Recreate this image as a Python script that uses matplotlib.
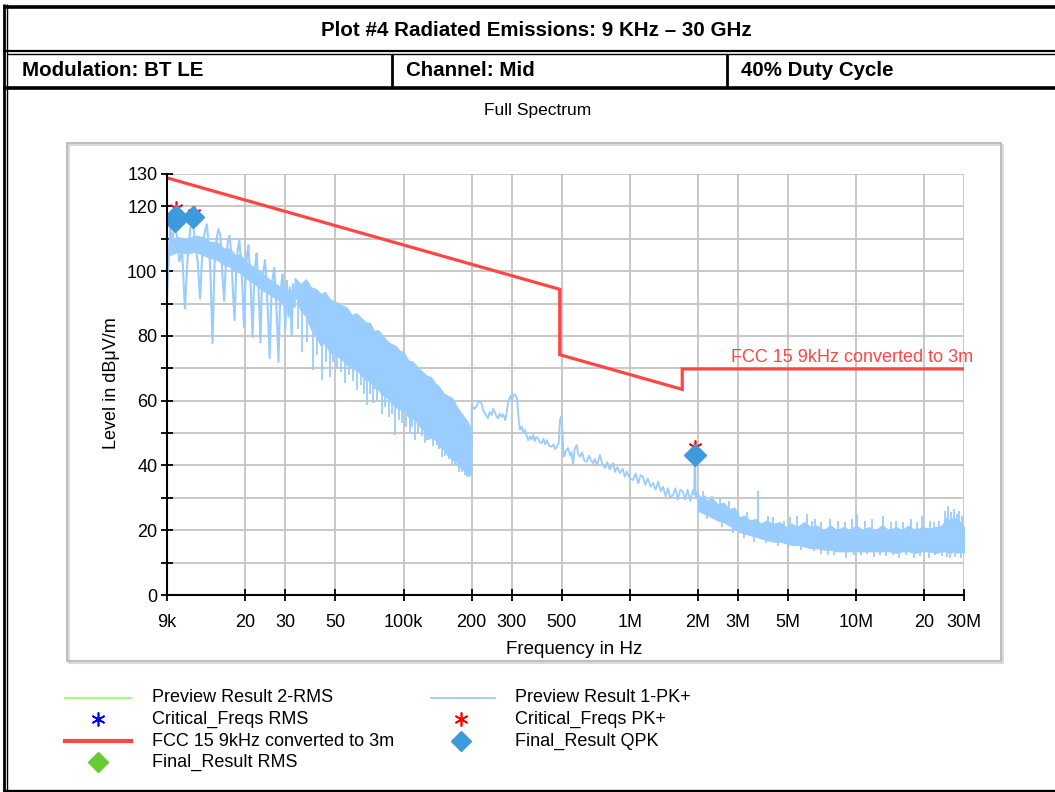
import matplotlib
matplotlib.use('Agg')
import matplotlib.pyplot as plt
from matplotlib.lines import Line2D
from matplotlib.patches import Rectangle
from matplotlib.ticker import NullLocator, FixedLocator
from matplotlib import font_manager as fm

# ---------------- data ----------------
title_text = "Plot #4 Radiated Emissions: 9 KHz \u2013 30 GHz"
row_texts = ["Modulation: BT LE", "Channel: Mid", "40% Duty Cycle"]
subtitle = "Full Spectrum"

x_ticks = [9e3, 2e4, 3e4, 5e4, 1e5, 2e5, 3e5, 5e5, 1e6, 2e6, 3e6, 5e6, 1e7, 2e7, 3e7]
x_tick_labels = ['9k', '20', '30', '50', '100k', '200', '300', '500', '1M', '2M',
                 '3M', '5M', '10M', '20', '30M']
y_ticks = [0, 20, 40, 60, 80, 100, 120, 130]
y_minor = [10, 30, 50, 70, 90, 110]

# FCC 15 limit converted to 3 m
limit_f = [9e3, 490e3, 490e3, 1.705e6, 1.705e6, 30e6]
limit_v = [128.8, 94.4, 74.2, 63.5, 69.8, 69.8]
limit_label = "FCC 15 9kHz converted to 3m"

# Preview Result 1-PK+ : low band comb (Hz, dBuV/m)
pk_low_f = [9000, 9050, 9150, 9300, 9500, 9700, 9950, 10200, 10500, 10800, 11100, 11400,
            11700, 12000, 12300, 12600, 12900, 13200, 13500, 13800, 14000, 14300, 14600,
            14900, 15200, 15500, 15800, 16100, 16400, 16700, 17000, 17300, 17600, 17900,
            18200, 18500, 18800, 19100, 19400, 19700, 20000, 20300, 20600, 20900, 21200,
            21500, 21800, 22100, 22400, 22700, 23000, 23300, 23600, 24000, 24400, 24800,
            25200, 25600, 26000, 26400, 26800, 27200, 27600, 28000, 28400, 28800, 29200,
            29600, 30000, 30500, 31000, 31500, 32000, 32500, 33000]
pk_low_v = [91, 96, 103, 113.5, 109, 114, 111, 103, 106, 88.5, 104, 113,
            115.5, 108, 103, 91.5, 106, 112, 114.5, 107, 100, 77.8, 102,
            110, 113, 111, 99, 90.9, 103, 109, 111, 106, 94, 84.9,
            100, 107, 109.5, 103, 95, 82.7, 97, 105, 108, 101, 92,
            79.6, 95, 102, 105.5, 99, 90, 78, 93, 100, 103.4, 96,
            85, 73.1, 91, 98, 101, 94, 84, 72, 89, 96, 99,
            92, 82, 97, 86, 95, 80, 96, 90]

# upper lobes of the low band comb (kHz)
band0_f = [9.3, 10, 11, 12, 13, 14, 15, 16, 17, 18, 19, 20, 22, 24, 26, 28, 30, 33]
band0_top = [110, 110.5, 110, 111, 110.5, 109, 109, 107, 107, 105, 105, 103,
             101, 99, 97, 95.5, 94.5, 94]
band0_bot = [105, 106, 105.5, 106, 105, 104, 103.5, 102, 101.5, 100, 99.5, 98, 96,
             94, 92.5, 91, 90, 89]

# dense comb region 33k-200k : jagged envelope of the band (kHz)
band1_f = [33, 35, 37, 39, 41, 43, 45, 47, 50, 53, 56, 59, 62, 65, 68, 71, 74, 77, 80, 84,
           88, 92, 96, 100, 105, 110, 115, 120, 126, 132, 138, 144, 150, 157, 164, 171, 178,
           185, 192, 199]
band1_top = [98, 96, 97.5, 95, 94.5, 93, 93.6, 91.5, 90.5, 89.5, 88.8, 86.5, 87, 85.5, 84.2,
             84, 81.5, 81.8, 80.5, 78.7, 77.5, 77, 75.5, 75, 72.5, 72, 70.4, 69.2, 67.8, 67.3,
             65.4, 64.2, 62.3, 61.5, 60.8, 58.5, 56.5, 55, 53.5, 51]
band1_bot = [93, 88, 86, 82, 80, 77, 78, 75, 74, 73, 71, 70, 69.5, 68, 66.4, 66, 64, 63.5,
             62, 61, 59.5, 58, 57.5, 57, 55, 54.5, 53, 51.5, 50, 48.5, 48, 46, 45, 43, 42,
             41, 39.5, 38.5, 37.5, 37]

# deep dips inside the dense region (kHz)
dip1_f = [34, 35.5, 37.5, 39.8, 41.5, 43.4, 45.5, 47.3, 49, 51, 53, 55.1, 57.5, 60, 62.1,
          64.5, 66.5, 68.7, 71, 73.2, 76, 80, 83, 86, 89, 91.6, 95, 98, 102, 106.7, 109,
          112.3, 116, 120, 124.3, 127, 130, 135, 140, 144, 147.8, 152, 158, 163.7, 169,
          175, 181, 186, 190, 195]
dip1_v = [82, 75, 78, 69.4, 74, 66.4, 72, 67.4, 72, 70, 69, 65.4, 68, 66, 63.3,
          65, 62, 58.6, 62, 59.3, 60, 56, 58, 55, 56, 49.4, 54, 53, 52, 50, 52,
          47.8, 50, 49, 46.9, 48, 48, 46, 46.3, 45, 42.6, 43, 42, 40, 40,
          38, 38, 37, 36.5, 36.5]
dip1_top = [95, 93, 94, 92, 91, 90, 90, 88, 88, 86, 86, 85, 84, 84, 83,
            82, 82, 81, 80, 79, 78, 76, 76, 75, 74, 72, 72, 70, 70, 68, 68,
            67, 66, 64, 63, 62, 62, 60, 58, 58, 56, 56, 54, 52, 52,
            50, 50, 48, 48, 46]

# 200k - 2.3M section (kHz, dBuV/m)
pk_mid_f = [199.5, 200, 205, 210, 215, 221, 225, 229, 236, 240, 245, 249, 253, 257, 261, 266,
            271, 276, 281, 285, 290, 297, 302, 305, 310, 317, 322, 327, 333, 338, 344, 349,
            355, 362, 368, 374, 380, 386, 393, 400, 408, 415, 422, 430, 440, 452, 460, 468,
            476, 485, 491, 496, 503, 508, 512, 522, 533, 545, 553, 561, 570, 582, 592, 603,
            615, 630, 645, 660, 675, 688, 700, 715, 738, 755, 777, 795, 815, 843, 860, 880,
            905, 930, 950, 969, 1000, 1033, 1060, 1090, 1115, 1143, 1170, 1200, 1235, 1267,
            1300, 1335, 1370, 1402, 1440, 1475, 1510, 1552, 1590, 1630, 1670, 1718, 1760,
            1800, 1850, 1901, 1925, 1935, 1945, 1955, 1980, 2045, 2100, 2150, 2200, 2264]
pk_mid_v = [37, 58.6, 57.5, 58.1, 60.0, 59.2, 57.0, 56, 54.6, 56.5, 55.6, 57.5, 56.6, 55.2, 54.6, 56.0,
            55, 55.8, 54, 56.0, 59.7, 61.5, 60.0, 61.7, 62.0, 60.8, 55.0, 51, 52.0, 50.0, 51, 49.5,
            47.8, 49.0, 48.0, 49.4, 47.5, 48.8, 48.4, 47.2, 46.9, 48.3, 46.5, 47.8, 46.0, 45.8, 46.5, 45.0,
            45.8, 47.0, 54, 55.0, 51, 45.0, 42.7, 44.5, 45.4, 43.0, 44.2, 40.1, 45.0, 46.3, 43.5, 42.7,
            44.0, 41.5, 41.1, 43.0, 41.5, 40.7, 42.0, 40.0, 43.2, 40.5, 39.2, 41.0, 38.8, 40.7, 38.0, 39.5,
            37.6, 39.0, 36.5, 38.1, 36.0, 35.5, 37.5, 34.5, 37.0, 36.5, 34.0, 36.0, 33.5, 34.6,
            32.5, 35.0, 32.0, 33.4, 30.5, 33.0, 30.0, 30.9, 33.0, 29.5, 32.5, 31.9, 29.5,
            32.5, 29.0, 32.4, 31.0, 41.0, 41.0, 30.0, 31.5, 29.9, 28.0, 30.5, 27.0, 27.8]

# 2M - 30M noise floor (MHz)
band2_f = [2.0, 2.15, 2.3, 2.45, 2.6, 2.75, 2.9, 3.05, 3.2, 3.4, 3.6, 3.8, 4.0, 4.3, 4.6, 4.9,
           5.2, 5.5, 5.9, 6.3, 6.7, 7.2, 7.7, 8.2, 8.8, 9.4, 10, 10.7, 11.4, 12.2, 13, 14, 15,
           16, 17, 18.2, 19.5, 21, 22.5, 24, 25, 26, 27, 28, 29, 30]
band2_top = [31, 29, 30, 28, 28.5, 26.5, 27, 24, 24.5, 23, 23.5, 22, 23, 22, 22.5, 21,
             22, 21, 22.5, 21, 21.5, 20, 21.5, 20, 21, 20, 21.5, 20, 21, 20, 21.5, 20, 21,
             20, 21.5, 20, 21, 20.5, 21, 21.5, 24, 23, 24, 23, 22.5, 21]
band2_bot = [26, 25, 24, 23, 22.5, 21.5, 20.5, 19.5, 19, 18.5, 18, 17.5, 17, 16.5, 16.5, 16,
             15.5, 15.5, 15, 14.5, 14.5, 14, 14, 13.5, 13.5, 13.5, 13.5, 13.5, 13.5, 13.5,
             13.5, 13.5, 13, 13.5, 13.5, 13, 13.5, 13.5, 13, 13.5, 13.5, 13, 13.5, 13, 13.5, 13]
spk_up_f = [2.1, 2.3, 2.5, 2.75, 3.0, 3.3, 3.7, 4.1, 4.3, 4.8, 5.1, 5.5, 6.05, 6.4, 6.6, 7.0,
            7.7, 8.3, 8.9, 9.6, 10.1, 11.0, 11.8, 13.1, 14.3, 15.0, 16.2, 17.5, 18.6, 19.5,
            21.2, 22.0, 23.3, 24.8, 25.5, 26.3, 27.0, 27.8, 28.5, 29.3]
spk_up_v = [32, 30.5, 30, 29, 26, 25.5, 32.2, 24.5, 24, 23, 24, 24.5, 25, 23, 23.5, 22.5,
            23.5, 23, 22.5, 23.5, 25, 23, 23.5, 24.5, 22.5, 23, 22.5, 23.5, 22.5, 24.5,
            23, 22.5, 23, 26, 27.5, 25.5, 26.5, 25, 26, 24.5]
spk_up_base = [28, 26, 25, 24, 22, 21, 20, 20, 20, 19, 19, 19, 19, 18, 18, 18,
               18, 18, 18, 18, 18, 18, 18, 18, 18, 18, 18, 18, 18, 18,
               18, 18, 18, 20, 20, 20, 20, 20, 20, 20]
spk_dn_f = [2.2, 2.55, 2.85, 3.2, 3.55, 4.0, 4.5, 5.0, 5.7, 6.5, 7.0, 7.5, 8.0, 9.0, 9.8,
            10.5, 11.2, 12.0, 12.8, 13.5, 14.6, 15.5, 16.6, 18.0, 19.2, 21.0, 22.4, 24.0,
            25.2, 26.0, 27.5, 29.0]
spk_dn_v = [23.5, 21, 19, 17.5, 16.5, 16, 15, 14.5, 14, 13.5, 12.8, 12.5, 12.2, 11.5, 12.3,
            12.3, 12.6, 11.8, 12.2, 12.0, 12.4, 11.5, 12.2, 11.3, 12.0, 11.5, 12.2, 12.0,
            11.6, 11.3, 11.8, 11.4]
spk_dn_top = [27, 25, 23, 21, 20, 20, 19, 19, 18, 17, 17, 17, 17, 16, 16,
              16, 16, 16, 16, 16, 16, 16, 16, 16, 16, 16, 16, 16,
              16, 16, 16, 16]

# markers
qpk_f = [9860, 9800, 11760, 1.94e6]
qpk_v = [117.0, 115.4, 116.8, 43.2]
crit_pk_f = [9900, 11800, 1.94e6]
crit_pk_v = [119.4, 118.0, 45.7]

legend_items = ["Preview Result 2-RMS", "Critical_Freqs RMS", "FCC 15 9kHz converted to 3m",
                "Final_Result RMS", "Preview Result 1-PK+", "Critical_Freqs PK+", "Final_Result QPK"]

# ---------------- styles ----------------
C_PK = '#99CCFF'
C_LIM = '#FF4646'
C_QPK = '#3D9BDD'
C_RMS_LINE = '#99FF66'
C_RMS_D = '#66CC33'
C_GRID = '#C4C4C4'
ASTER = (6, 2, 0)

W, H = 1055, 792
names = {f.name for f in fm.fontManager.ttflist}
if 'Liberation Sans Narrow' in names:
    HEAD_FAM, HEAD_SIZE = ['Liberation Sans Narrow', 'DejaVu Sans'], 18
else:
    HEAD_FAM, HEAD_SIZE = ['Liberation Sans', 'DejaVu Sans'], 14.8
plt.rcParams['font.family'] = ['Liberation Sans', 'DejaVu Sans']

fig = plt.figure(figsize=(W / 100, H / 100), dpi=100)


def fx(x):
    return x / W


def fy(y):
    return 1 - y / H


def hline(y, x0, x1, lw):
    fig.add_artist(Line2D([fx(x0), fx(x1)], [fy(y), fy(y)], color='black', lw=lw,
                          solid_capstyle='butt'))


def vline(x, y0, y1, lw):
    fig.add_artist(Line2D([fx(x), fx(x)], [fy(y0), fy(y1)], color='black', lw=lw,
                          solid_capstyle='butt'))


# outer frame
vline(3.5, 4, 792, 2.0)
vline(7.2, 4, 792, 1.0)
hline(6.5, 3, 1055, 2.6)
hline(51, 3, 1055, 1.6)
hline(54, 7, 1055, 1.0)
hline(88.3, 3, 1055, 2.6)
hline(790.5, 3, 1055, 2.4)
vline(391.5, 54, 88, 2.0)
vline(726.5, 54, 88, 2.0)

fig.text(fx(536), fy(31), title_text, family=HEAD_FAM, fontsize=HEAD_SIZE, weight='bold',
         ha='center', va='center')
for x, t in zip([22, 406, 741], row_texts):
    fig.text(fx(x), fy(71), t, family=HEAD_FAM, fontsize=HEAD_SIZE, weight='bold',
             ha='left', va='center')
fig.text(fx(538), fy(110), subtitle, fontsize=12.5, ha='center', va='center')

# panel box
fig.add_artist(Rectangle((fx(69), fy(663)), fx(1003) - fx(69), fy(145) - fy(663),
                         transform=fig.transFigure, fill=False, ec='#DADADA', lw=1.5))
fig.add_artist(Rectangle((fx(67), fy(661)), fx(1001) - fx(67), fy(143) - fy(661),
                         transform=fig.transFigure, fill=False, ec='#B8B8B8', lw=1.3))

# axes
ax = fig.add_axes([fx(167), fy(595), fx(964) - fx(167), fy(174) - fy(595)])
ax.set_xscale('log')
ax.set_xlim(9e3, 3e7)
ax.set_ylim(0, 130)
ax.xaxis.set_major_locator(FixedLocator(x_ticks))
ax.set_xticklabels(x_tick_labels)
ax.xaxis.set_minor_locator(NullLocator())
ax.yaxis.set_major_locator(FixedLocator(y_ticks))
ax.yaxis.set_minor_locator(FixedLocator(y_minor))
ax.set_axisbelow(True)
ax.grid(True, axis='y', which='both', color=C_GRID, lw=1.3)
ax.grid(True, axis='x', which='major', color=C_GRID, lw=1.3)
for s in ['top', 'right']:
    ax.spines[s].set_visible(False)
for s in ['left', 'bottom']:
    ax.spines[s].set_linewidth(1.5)
    ax.spines[s].set_zorder(5)
ax.tick_params(which='both', direction='inout', length=8, width=1.3, labelsize=13)
ax.tick_params(axis='x', pad=10)
ax.tick_params(axis='y', pad=3)

# PK+ trace
ax.plot(pk_low_f, pk_low_v, color=C_PK, lw=1.5, zorder=2)
ax.fill_between([f * 1e3 for f in band0_f], band0_bot, band0_top, color=C_PK, lw=0.8,
                ec=C_PK, zorder=2)
ax.fill_between([f * 1e3 for f in band1_f], band1_bot, band1_top, color=C_PK, lw=0.8,
                ec=C_PK, zorder=2)
ax.vlines([f * 1e3 for f in dip1_f], dip1_v, dip1_top, color=C_PK, lw=1.3, zorder=2)
ax.plot([f * 1e3 for f in pk_mid_f], pk_mid_v, color=C_PK, lw=1.3, zorder=2)
ax.fill_between([f * 1e6 for f in band2_f], band2_bot, band2_top, color=C_PK, lw=0.8, ec=C_PK,
                zorder=2)
ax.vlines([f * 1e6 for f in spk_up_f], spk_up_base, spk_up_v, color=C_PK, lw=1.3, zorder=2)
ax.vlines([f * 1e6 for f in spk_dn_f], spk_dn_v, spk_dn_top, color=C_PK, lw=1.3, zorder=2)

# limit
ax.plot(limit_f, limit_v, color=C_LIM, lw=2.3, zorder=3, solid_joinstyle='miter')
fig.text(fx(973), fy(358), limit_label, color=C_LIM, fontsize=13, ha='right', va='center')

# markers
ax.plot(crit_pk_f, crit_pk_v, ls='none', marker=ASTER, ms=10, mec='red', mew=1.2, zorder=4)
ax.plot(qpk_f, qpk_v, ls='none', marker='D', ms=11, mfc=C_QPK, mec=C_QPK, zorder=4.5)

fig.text(fx(112), fy(383), "Level in dB\u03bcV/m", fontsize=13, rotation=90,
         ha='center', va='center')
fig.text(fx(574), fy(649), "Frequency in Hz", fontsize=13.5, ha='center', va='center')

# legend
def leg_line(x0, x1, y, color, lw):
    fig.add_artist(Line2D([fx(x0), fx(x1)], [fy(y), fy(y)], color=color, lw=lw))


def leg_mark(x, y, marker, color, ms, mew=1.0):
    fig.add_artist(Line2D([fx(x)], [fy(y)], ls='none', marker=marker, ms=ms,
                          mfc=color, mec=color, mew=mew))


leg_line(65, 131, 698, C_RMS_LINE, 1.3)
leg_mark(98, 719, ASTER, 'blue', 10, 1.2)
leg_line(65, 131, 741, C_LIM, 3.0)
leg_mark(98, 762, 'D', C_RMS_D, 10)
leg_line(431, 495, 698, C_PK, 1.3)
leg_mark(461, 719, ASTER, 'red', 10, 1.2)
leg_mark(461, 741, 'D', C_QPK, 10)
for (x, y), t in zip([(152, 698), (152, 719), (152, 741), (152, 762),
                      (515, 698), (515, 719), (515, 741)], legend_items):
    fig.text(fx(x), fy(y), t, fontsize=13, ha='left', va='center')

fig.savefig('out.png', dpi=100)
